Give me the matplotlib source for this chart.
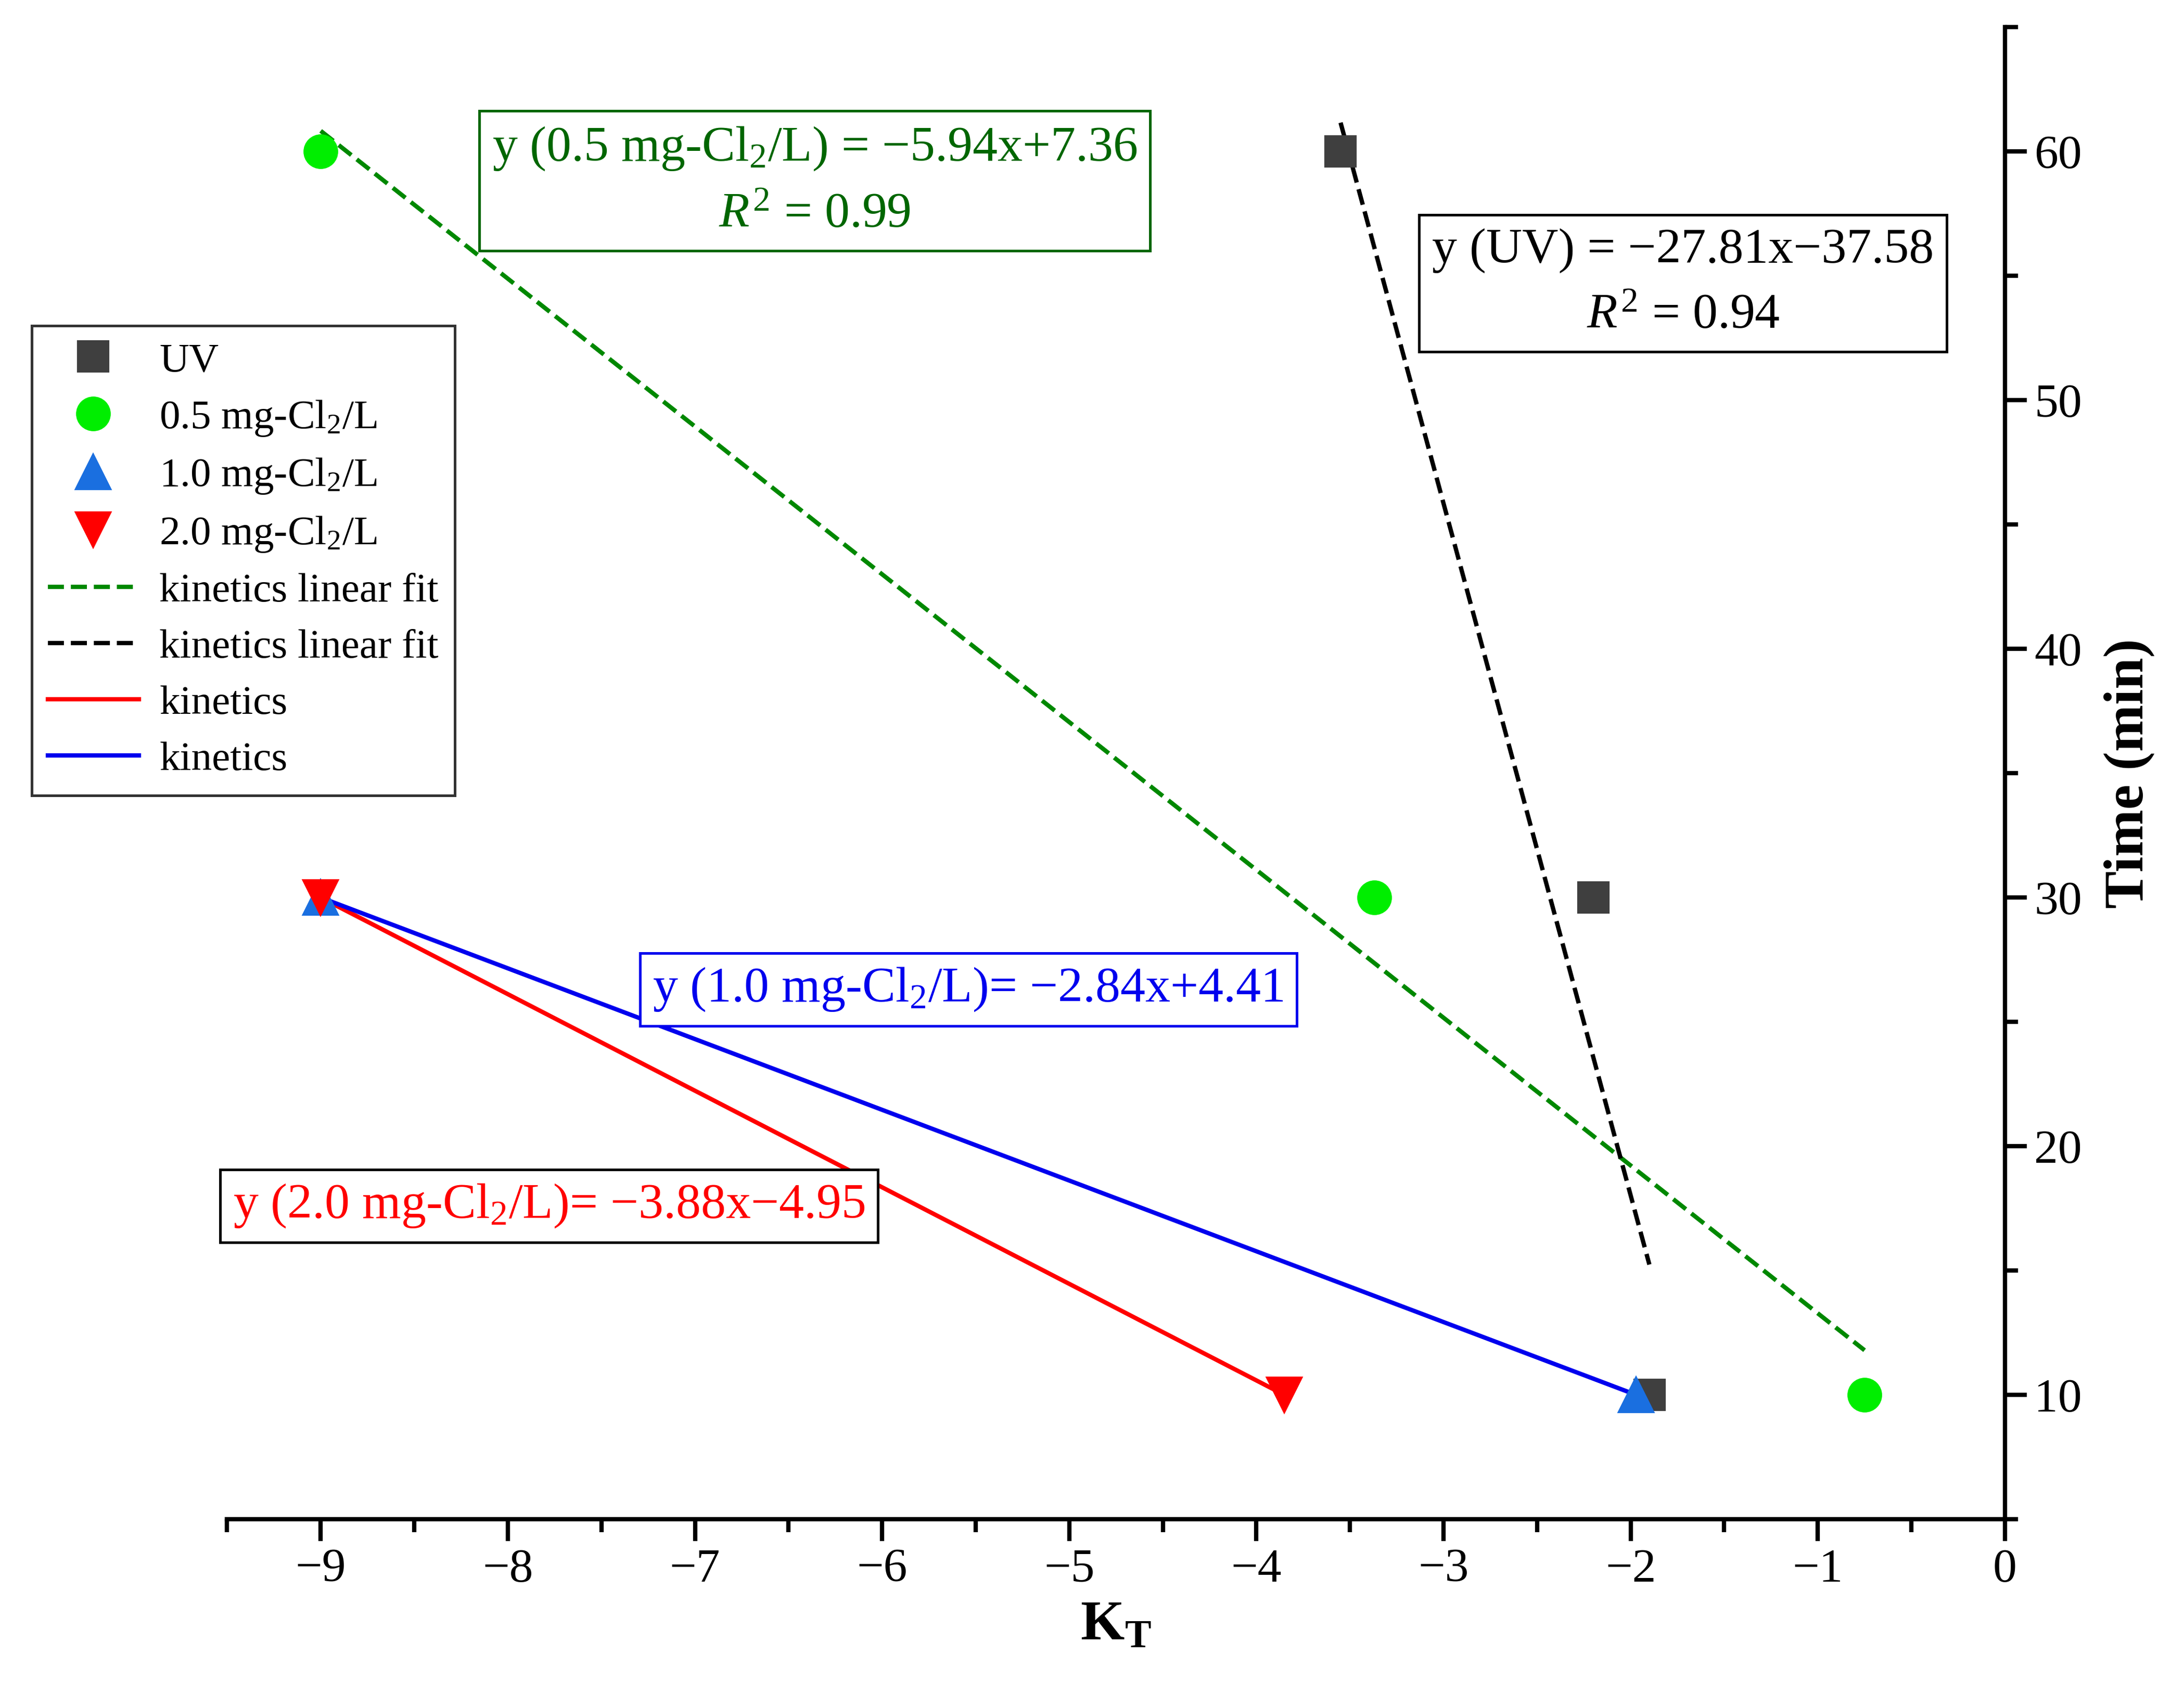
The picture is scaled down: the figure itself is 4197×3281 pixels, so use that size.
import numpy as np
import matplotlib
matplotlib.use('Agg')
import matplotlib.pyplot as plt

plt.rcParams['font.family'] = ['Liberation Serif', 'DejaVu Serif']
plt.rcParams['mathtext.fontset'] = 'custom'
plt.rcParams['mathtext.rm'] = 'Liberation Serif'
plt.rcParams['mathtext.it'] = 'Liberation Serif:italic'
plt.rcParams['mathtext.bf'] = 'Liberation Serif:bold'

# data (K_T vs time)
uv_x = [-3.55, -2.2, -1.9]
uv_y = [60, 30, 10]
c05_x = [-9.0, -3.37, -0.75]
c05_y = [60, 30, 10]
c10_x = [-9.0, -1.97]
c10_y = [30, 10]
c20_x = [-9.0, -3.85]
c20_y = [30, 10]

fig = plt.figure(figsize=(4197/300, 3281/300), dpi=300)
ax = fig.add_axes([0.104, 0.110, 0.814, 0.874])

ax.plot(uv_x, uv_y, 's', color='#3f3f3f', ms=14, label='UV', zorder=5)
ax.plot(c05_x, c05_y, 'o', color='#00ee00', ms=15, label='0.5 mg-Cl$_2$/L', zorder=5)
ax.plot(c10_x, c10_y, '^', color='#1a6fe0', ms=16, label='1.0 mg-Cl$_2$/L', zorder=5)
ax.plot(c20_x, c20_y, 'v', color='#ff0000', ms=16, label='2.0 mg-Cl$_2$/L', zorder=5)

# linear fits
p05 = np.polyfit(c05_x, c05_y, 1)
xs = np.array([min(c05_x), max(c05_x)])
ax.plot(xs, np.polyval(p05, xs), '--', color='#008800', lw=2, label='kinetics linear fit')
puv = np.polyfit(uv_x, uv_y, 1)
xs = np.array([min(uv_x), max(uv_x)])
ax.plot(xs, np.polyval(puv, xs), '--', color='black', lw=2, label='kinetics linear fit')
ax.plot(c20_x, c20_y, '-', color='red', lw=2, label='kinetics')
ax.plot(c10_x, c10_y, '-', color='#0000ee', lw=2, label='kinetics')

fs = 23
ax.text(-6.36, 58.8, 'y (0.5 mg-Cl$_2$/L) = \u22125.94x+7.36\n$R^2$ = 0.99', color='#006600',
        fontsize=fs, ha='center', va='center', multialignment='center', linespacing=1.6,
        bbox=dict(facecolor='white', edgecolor='#006600', lw=1.2, pad=6))
ax.text(-1.72, 54.7, 'y (UV) = \u221227.81x\u221237.58\n$R^2$ = 0.94', color='black',
        fontsize=fs, ha='center', va='center', multialignment='center', linespacing=1.6,
        bbox=dict(facecolor='white', edgecolor='black', lw=1.2, pad=6))
ax.text(-5.54, 26.3, 'y (1.0 mg-Cl$_2$/L)= \u22122.84x+4.41', color='#0000ee',
        fontsize=fs, ha='center', va='center',
        bbox=dict(facecolor='white', edgecolor='#0000ee', lw=1.2, pad=6))
ax.text(-7.78, 17.6, 'y (2.0 mg-Cl$_2$/L)= \u22123.88x\u22124.95', color='red',
        fontsize=fs, ha='center', va='center',
        bbox=dict(facecolor='white', edgecolor='black', lw=1.2, pad=6))

ax.set_xlim(-9.5, 0)
ax.set_ylim(5, 65)
ax.spines['left'].set_visible(False)
ax.spines['top'].set_visible(False)
ax.spines['right'].set_position(('data', 0))
for s in ('bottom', 'right'):
    ax.spines[s].set_linewidth(2)
ax.yaxis.tick_right()
ax.yaxis.set_label_position('right')
ax.set_xticks(np.arange(-9, 1, 1))
ax.set_xticks(np.arange(-9.5, 0, 0.5), minor=True)
ax.set_yticks([10, 20, 30, 40, 50, 60])
ax.set_yticks(np.arange(5, 66, 5), minor=True)
ax.tick_params(which='major', length=10, width=2, labelsize=22, direction='out')
ax.tick_params(which='minor', length=6, width=2, direction='out')
ax.set_xlabel('K$_\\mathbf{T}$', fontsize=26, fontweight='bold')
ax.set_ylabel('Time (min)', fontsize=26, fontweight='bold', labelpad=10)

leg = ax.legend(loc='upper left', bbox_to_anchor=(-0.11, 0.80), fontsize=19, frameon=True,
                fancybox=False, edgecolor='black', handlelength=2.2, handletextpad=0.5,
                borderpad=0.4, borderaxespad=0, labelspacing=0.45)
leg.get_frame().set_linewidth(1.2)

fig.savefig('out.png', dpi=300)
